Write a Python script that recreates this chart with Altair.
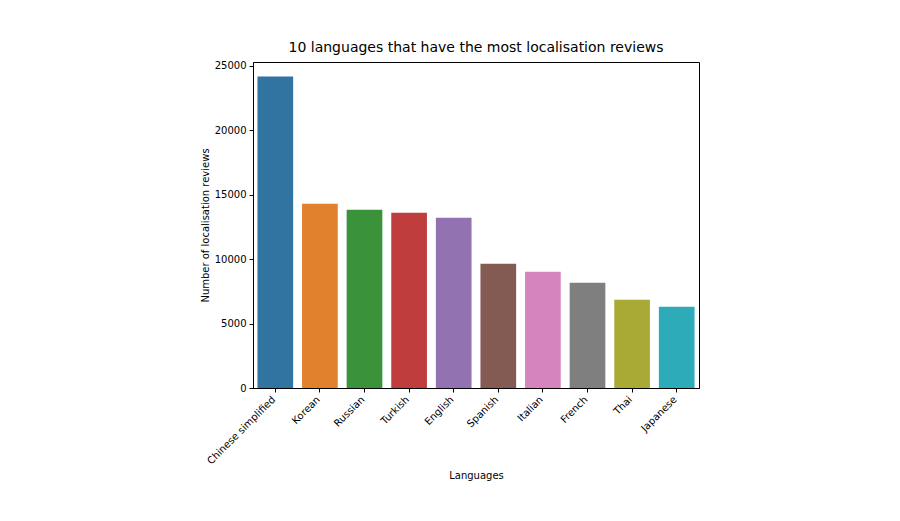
import altair as alt
import pandas as pd

languages = ["Chinese simplified", "Korean", "Russian", "Turkish", "English",
             "Spanish", "Italian", "French", "Thai", "Japanese"]
reviews = [24190, 14310, 13840, 13610, 13220, 9650, 9030, 8175, 6855, 6310]
colors = ["#3274a1", "#e1812c", "#3a923a", "#c03d3e", "#9372b2",
          "#845b53", "#d684bd", "#7f7f7f", "#a9aa35", "#2eabb8"]
y_ticks = [0, 5000, 10000, 15000, 20000, 25000]

df = pd.DataFrame({"Languages": languages, "Reviews": reviews})

font = "DejaVu Sans"

chart = alt.Chart(df).mark_bar().encode(
    x=alt.X("Languages:N", sort=languages,
            scale=alt.Scale(paddingInner=0.2, paddingOuter=0.1),
            axis=alt.Axis(title="Languages", labelAngle=-45, labelAlign="right",
                          labelBaseline="top", labelPadding=2, labelOffset=-5,
                          titleY=92, titleBaseline="bottom")),
    y=alt.Y("Reviews:Q", scale=alt.Scale(domain=[0, 25310], nice=False),
            axis=alt.Axis(title="Number of localisation reviews", values=y_ticks,
                          format="d", titleX=-48, titleBaseline="middle")),
    color=alt.Color("Languages:N", sort=languages,
                    scale=alt.Scale(domain=languages, range=colors), legend=None),
).properties(
    width=446, height=326,
    title=alt.TitleParams("10 languages that have the most localisation reviews",
                          fontSize=14, font=font, fontWeight="normal",
                          color="black", anchor="middle", offset=6),
    autosize=alt.AutoSizeParams(type="none"),
    padding={"left": 245, "top": 54, "right": 180, "bottom": 125},
).configure(
    background="white",
).configure_view(
    stroke="black", strokeWidth=1, fill="white",
).configure_axis(
    labelFont=font, titleFont=font, labelFontSize=10, titleFontSize=10,
    labelColor="black", titleColor="black", titleFontWeight="normal",
    domainColor="black", tickColor="black", tickSize=4, grid=False,
    labelPadding=3,
)

chart.save("out.html", embed_options={"renderer": "svg", "actions": False})
